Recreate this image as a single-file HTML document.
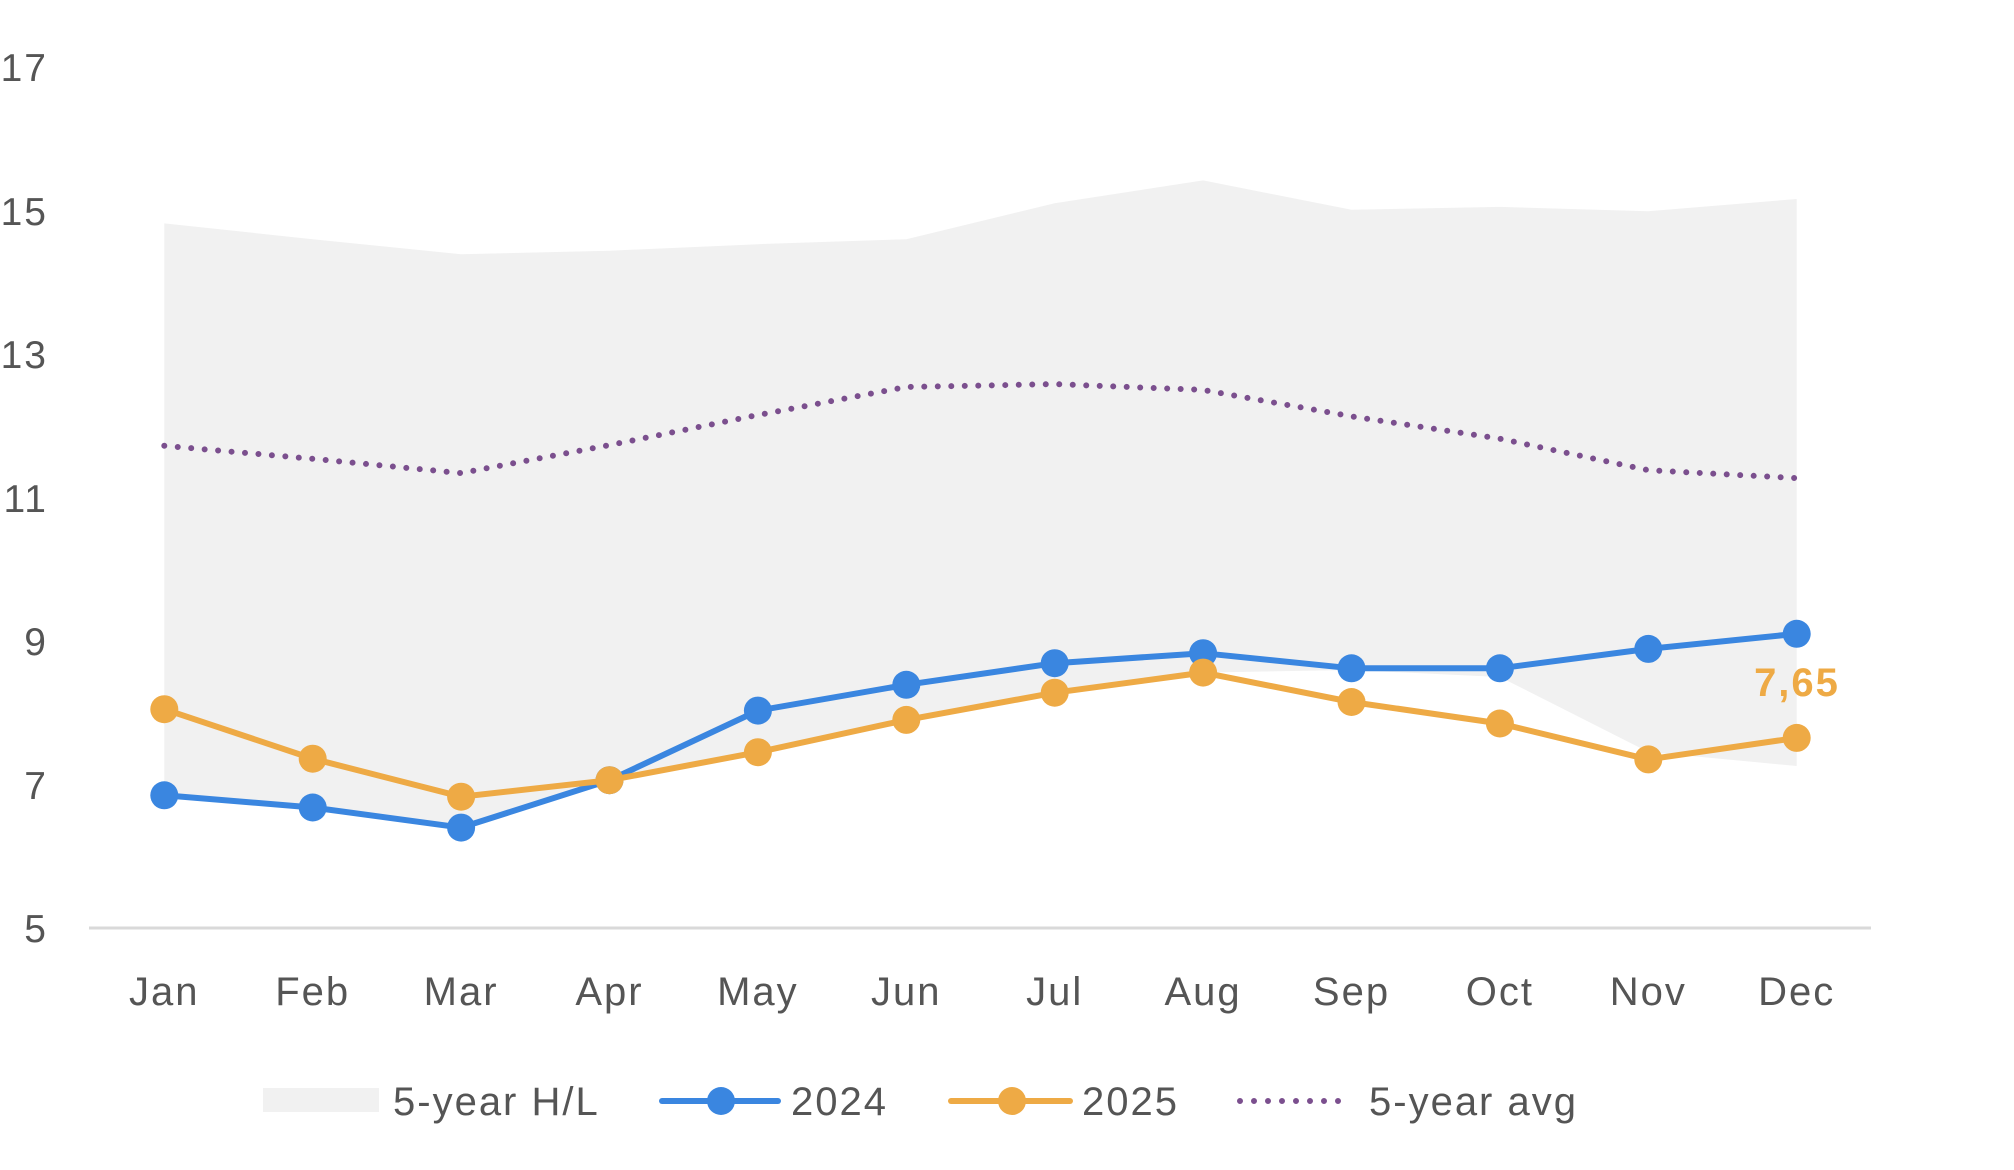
<!DOCTYPE html>
<html><head><meta charset="utf-8"><style>
html,body{margin:0;padding:0;background:#fff;}
svg{display:block;font-family:"Liberation Sans",sans-serif;}
</style></head><body>
<svg width="2014" height="1170" viewBox="0 0 2014 1170" xmlns="http://www.w3.org/2000/svg">
<polygon fill="#f1f1f1" points="164.3,223.4 312.7,239.2 461.1,254.3 609.5,250.7 757.9,244.2 906.3,239.2 1054.7,203.3 1203.1,180.4 1351.5,209.8 1499.9,206.9 1648.3,211.2 1796.7,199 1796.7,766 1648.3,752 1499.9,677 1351.5,670 1203.1,672.6 1054.7,692.7 906.3,719.9 757.9,752.2 609.5,780.2 461.1,827.6 312.7,807.5 164.3,795.3"/>
<line x1="89" y1="928" x2="1871" y2="928" stroke="#d9d9d9" stroke-width="3"/>
<g fill="#555" font-size="39" text-anchor="end" letter-spacing="2">
<text x="48" y="81">17</text><text x="48" y="225">15</text><text x="48" y="368">13</text>
<text x="48" y="512">11</text><text x="48" y="655">9</text><text x="48" y="799">7</text><text x="48" y="942">5</text>
</g>
<g fill="#555" font-size="40" text-anchor="middle" letter-spacing="2">
<text x="164.3" y="1005">Jan</text><text x="312.7" y="1005">Feb</text><text x="461.1" y="1005">Mar</text>
<text x="609.5" y="1005">Apr</text><text x="757.9" y="1005">May</text><text x="906.3" y="1005">Jun</text>
<text x="1054.7" y="1005">Jul</text><text x="1203.1" y="1005">Aug</text><text x="1351.5" y="1005">Sep</text>
<text x="1499.9" y="1005">Oct</text><text x="1648.3" y="1005">Nov</text><text x="1796.7" y="1005">Dec</text>
</g>
<polyline fill="none" stroke="#7b4f8e" stroke-width="6" stroke-linecap="round" stroke-dasharray="0 13.5" points="164.3,445.8 312.7,458.8 461.1,473.1 609.5,445.1 757.9,415 906.3,387 1054.7,384.1 1203.1,389.9 1351.5,416.4 1499.9,438.7 1648.3,470.2 1796.7,478.1"/>
<g fill="#3a86e0">
<polyline fill="none" stroke="#3a86e0" stroke-width="6" points="164.3,795.3 312.7,807.5 461.1,827.6 609.5,780.2 757.9,710.6 906.3,684.8 1054.7,663.2 1203.1,653.2 1351.5,668.3 1499.9,668.3 1648.3,648.9 1796.7,633.8"/>
<circle cx="164.3" cy="795.3" r="14"/><circle cx="312.7" cy="807.5" r="14"/><circle cx="461.1" cy="827.6" r="14"/><circle cx="609.5" cy="780.2" r="14"/><circle cx="757.9" cy="710.6" r="14"/><circle cx="906.3" cy="684.8" r="14"/><circle cx="1054.7" cy="663.2" r="14"/><circle cx="1203.1" cy="653.2" r="14"/><circle cx="1351.5" cy="668.3" r="14"/><circle cx="1499.9" cy="668.3" r="14"/><circle cx="1648.3" cy="648.9" r="14"/><circle cx="1796.7" cy="633.8" r="14"/>
</g>
<g fill="#eeaa45">
<polyline fill="none" stroke="#eeaa45" stroke-width="6" points="164.3,709.2 312.7,758.7 461.1,796.7 609.5,780.2 757.9,752.2 906.3,719.9 1054.7,692.7 1203.1,672.6 1351.5,702 1499.9,723.5 1648.3,759.4 1796.7,737.9"/>
<circle cx="164.3" cy="709.2" r="14"/><circle cx="312.7" cy="758.7" r="14"/><circle cx="461.1" cy="796.7" r="14"/><circle cx="609.5" cy="780.2" r="14"/><circle cx="757.9" cy="752.2" r="14"/><circle cx="906.3" cy="719.9" r="14"/><circle cx="1054.7" cy="692.7" r="14"/><circle cx="1203.1" cy="672.6" r="14"/><circle cx="1351.5" cy="702" r="14"/><circle cx="1499.9" cy="723.5" r="14"/><circle cx="1648.3" cy="759.4" r="14"/><circle cx="1796.7" cy="737.9" r="14"/>
<text x="1797" y="696" font-size="40" font-weight="bold" text-anchor="middle" letter-spacing="2">7,65</text>
</g>
<rect x="263" y="1088" width="116" height="24" fill="#f1f1f1"/>
<g fill="#555" font-size="40" letter-spacing="2">
<text x="393" y="1115">5-year H/L</text>
<text x="791" y="1115">2024</text>
<text x="1082" y="1115">2025</text>
<text x="1369" y="1115">5-year avg</text>
</g>
<line x1="662" y1="1101" x2="778" y2="1101" stroke="#3a86e0" stroke-width="6" stroke-linecap="round"/>
<circle cx="721" cy="1101" r="14" fill="#3a86e0"/>
<line x1="951" y1="1101" x2="1070" y2="1101" stroke="#eeaa45" stroke-width="6" stroke-linecap="round"/>
<circle cx="1012" cy="1101" r="14" fill="#eeaa45"/>
<line x1="1240" y1="1101" x2="1352" y2="1101" stroke="#7b4f8e" stroke-width="6" stroke-linecap="round" stroke-dasharray="0 14"/>
</svg>
</body></html>
